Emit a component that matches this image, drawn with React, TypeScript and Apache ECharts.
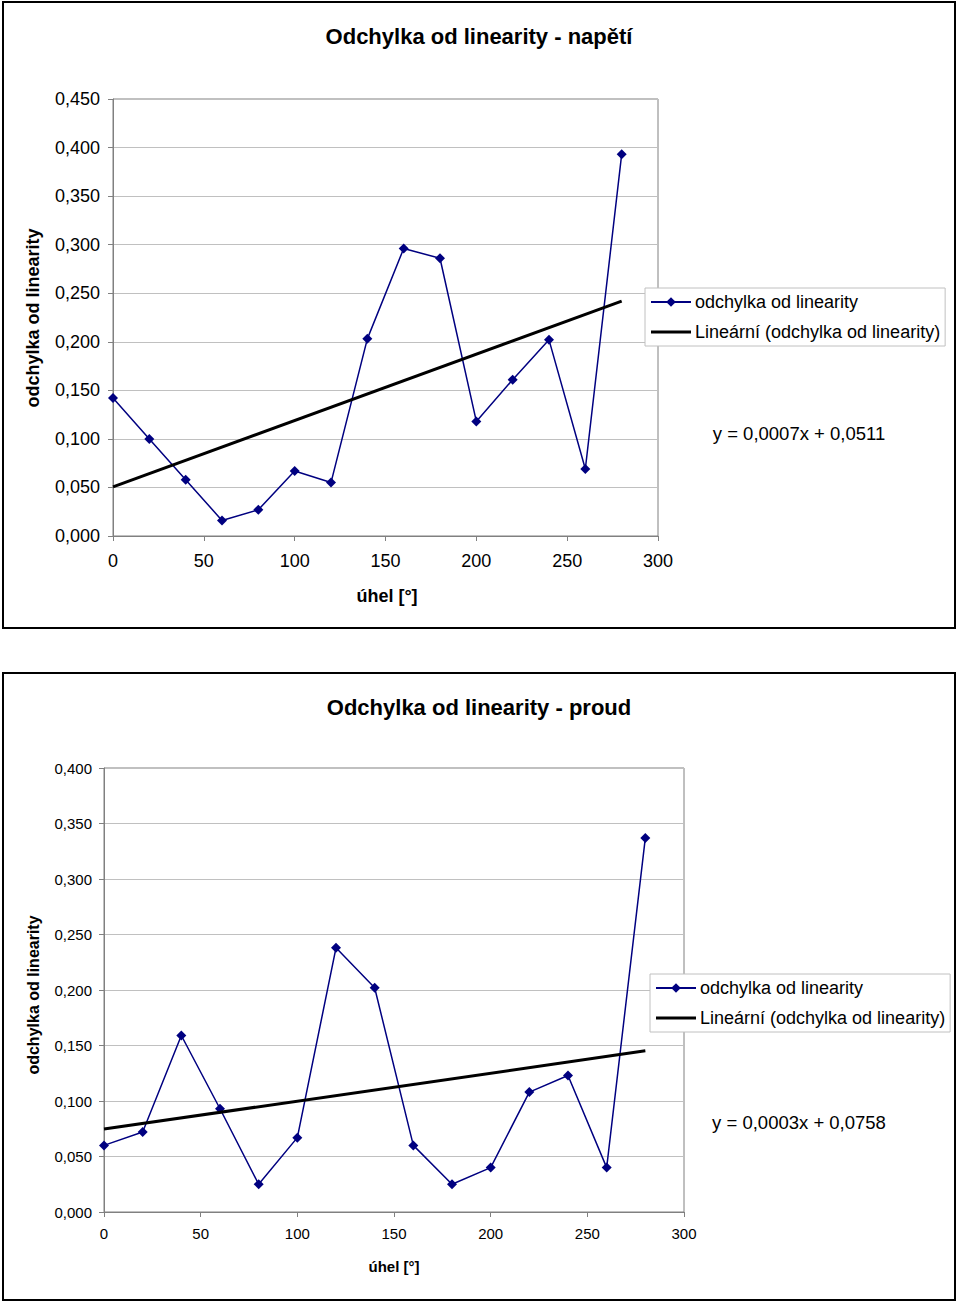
import React, { useEffect, useRef } from "react";
import * as echarts from "echarts";

const angles = [0, 20, 40, 60, 80, 100, 120, 140, 160, 180, 200, 220, 240, 260, 280];
const voltageDev = [0.142, 0.1, 0.058, 0.016, 0.027, 0.067, 0.055, 0.203, 0.296, 0.286, 0.118, 0.161, 0.202, 0.069, 0.393];
const currentDev = [0.06, 0.072, 0.159, 0.093, 0.025, 0.067, 0.238, 0.202, 0.06, 0.025, 0.04, 0.108, 0.123, 0.04, 0.337];

const titleTop = "Odchylka od linearity - napětí";
const titleBottom = "Odchylka od linearity - proud";
const yName = "odchylka od linearity";
const xName = "úhel [°]";
const seriesName = "odchylka od linearity";
const trendName = "Lineární (odchylka od linearity)";
const eqTop = "y = 0,0007x + 0,0511";
const eqBottom = "y = 0,0003x + 0,0758";

const FONT = "'Liberation Sans', Arial, sans-serif";

function regression(xs: number[], ys: number[]) {
  const n = xs.length;
  const mx = xs.reduce((a, b) => a + b, 0) / n;
  const my = ys.reduce((a, b) => a + b, 0) / n;
  let sxy = 0, sxx = 0;
  for (let i = 0; i < n; i++) {
    sxy += (xs[i] - mx) * (ys[i] - my);
    sxx += (xs[i] - mx) * (xs[i] - mx);
  }
  const b = sxy / sxx;
  const a = my - b * mx;
  const x0 = xs[0], x1 = xs[n - 1];
  return [[x0, a + b * x0], [x1, a + b * x1]];
}

const fmtY = (v: number) => v.toFixed(3).replace(".", ",");

function xAxisCfg(gridIndex: number, fontSize: number, margin: number) {
  return {
    type: "value",
    gridIndex,
    min: 0,
    max: 300,
    interval: 50,
    axisLine: { show: true, onZero: false, lineStyle: { color: "#808080", width: 1 } },
    axisTick: { show: true, length: 5, lineStyle: { color: "#808080" } },
    axisLabel: { color: "#000", fontSize, fontFamily: FONT, margin },
    splitLine: { show: false },
  };
}

function yAxisCfg(gridIndex: number, max: number, fontSize: number, margin: number) {
  return {
    type: "value",
    gridIndex,
    min: 0,
    max,
    interval: 0.05,
    axisLine: { show: true, lineStyle: { color: "#808080", width: 1 } },
    axisTick: { show: true, length: 5, lineStyle: { color: "#808080" } },
    axisLabel: { color: "#000", fontSize, fontFamily: FONT, margin, formatter: fmtY },
    splitLine: { show: true, lineStyle: { color: "#c0c0c0", width: 1 } },
  };
}

function dataSeries(idx: number, ys: number[]) {
  return {
    name: seriesName,
    type: "line",
    xAxisIndex: idx,
    yAxisIndex: idx,
    data: angles.map((a, i) => [a, ys[i]]),
    symbol: "diamond",
    symbolSize: 10,
    itemStyle: { color: "#000080" },
    lineStyle: { color: "#000080", width: 1.5 },
    z: 3,
  };
}

function trendSeries(idx: number, ys: number[]) {
  return {
    name: trendName,
    type: "line",
    xAxisIndex: idx,
    yAxisIndex: idx,
    data: regression(angles, ys),
    symbol: "none",
    itemStyle: { color: "#000" },
    lineStyle: { color: "#000", width: 3 },
    z: 4,
  };
}

function legendCfg(left: number, top: number) {
  return {
    orient: "vertical",
    left,
    top,
    data: [
      { name: seriesName },
      { name: trendName, icon: "path://M0,0L40,0L40,3L0,3Z", itemStyle: { color: "#000" } },
    ],
    backgroundColor: "#fff",
    borderColor: "#c0c0c0",
    borderWidth: 1,
    padding: [4, 5, 4, 5],
    itemGap: 10,
    itemWidth: 40,
    itemHeight: 12,
    textStyle: { color: "#000", fontSize: 18, fontFamily: FONT, lineHeight: 20, padding: [0, 0, 0, -1] },
    selectedMode: false,
    z: 10,
  };
}

export default function App() {
  const ref = useRef<HTMLDivElement>(null);
  useEffect(() => {
    if (!ref.current) return;
    const chart = echarts.init(ref.current, undefined, { renderer: "svg" });
    chart.setOption({
      animation: false,
      backgroundColor: "#fff",
      grid: [
        { left: 113, top: 99, width: 545, height: 437, show: true, borderColor: "#808080", borderWidth: 1, backgroundColor: "transparent" },
        { left: 104, top: 768, width: 580, height: 444, show: true, borderColor: "#808080", borderWidth: 1, backgroundColor: "transparent" },
      ],
      xAxis: [xAxisCfg(0, 18, 16), xAxisCfg(1, 15, 14)],
      yAxis: [yAxisCfg(0, 0.45, 18, 13), yAxisCfg(1, 0.4, 15, 12)],
      legend: [legendCfg(645, 288), legendCfg(650, 974)],
      series: [
        dataSeries(0, voltageDev),
        trendSeries(0, voltageDev),
        dataSeries(1, currentDev),
        trendSeries(1, currentDev),
      ],
      graphic: [
        { type: "rect", shape: { x: 3, y: 2, width: 952, height: 626 }, style: { fill: "none", stroke: "#000", lineWidth: 2 }, z: 0 },
        { type: "rect", shape: { x: 3, y: 673, width: 952, height: 627 }, style: { fill: "none", stroke: "#000", lineWidth: 2 }, z: 0 },
        { type: "text", x: 479, y: 36, style: { text: titleTop, fontSize: 22, fontWeight: "bold", fontFamily: FONT, fill: "#000", align: "center", verticalAlign: "middle" } },
        { type: "text", x: 479, y: 707, style: { text: titleBottom, fontSize: 22, fontWeight: "bold", fontFamily: FONT, fill: "#000", align: "center", verticalAlign: "middle" } },
        { type: "text", x: 33, y: 318, rotation: Math.PI / 2, style: { text: yName, fontSize: 18, fontWeight: "bold", fontFamily: FONT, fill: "#000", align: "center", verticalAlign: "middle" } },
        { type: "text", x: 33, y: 995, rotation: Math.PI / 2, style: { text: yName, fontSize: 16, fontWeight: "bold", fontFamily: FONT, fill: "#000", align: "center", verticalAlign: "middle" } },
        { type: "text", x: 387, y: 596, style: { text: xName, fontSize: 18, fontWeight: "bold", fontFamily: FONT, fill: "#000", align: "center", verticalAlign: "middle" } },
        { type: "text", x: 394, y: 1266, style: { text: xName, fontSize: 15, fontWeight: "bold", fontFamily: FONT, fill: "#000", align: "center", verticalAlign: "middle" } },
        { type: "text", x: 799, y: 433, style: { text: eqTop, fontSize: 18.5, fontFamily: FONT, fill: "#000", align: "center", verticalAlign: "middle" } },
        { type: "text", x: 799, y: 1122, style: { text: eqBottom, fontSize: 18.5, fontFamily: FONT, fill: "#000", align: "center", verticalAlign: "middle" } },
      ],
    });
    return () => chart.dispose();
  }, []);
  return <div ref={ref} style={{ position: "absolute", left: 0, top: 0, width: 960, height: 1305 }} />;
}
